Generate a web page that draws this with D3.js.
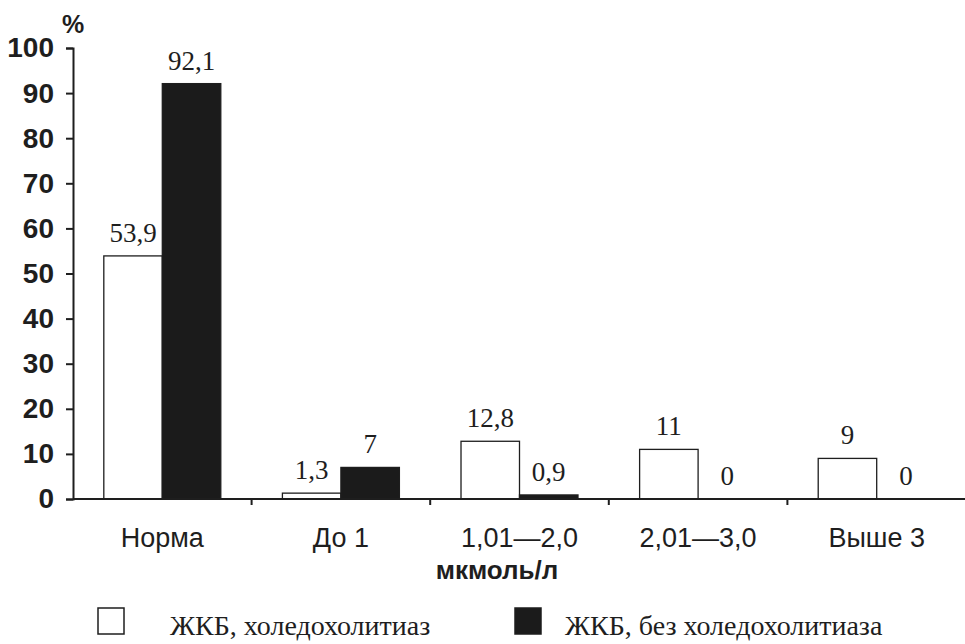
<!DOCTYPE html>
<html>
<head>
<meta charset="utf-8">
<script src="https://cdn.jsdelivr.net/npm/d3@7"></script>
<style>
  html, body { margin: 0; padding: 0; background: #fff; }
  svg { display: block; }
</style>
</head>
<body>
<svg id="chart" width="965" height="644"></svg>
<script>
// Bilirubin level groups and share of patients (%) in each
const categories = ["Норма", "До 1", "1,01—2,0", "2,01—3,0", "Выше 3"];
const seriesNames = ["ЖКБ, холедохолитиаз", "ЖКБ, без холедохолитиаза"];
const withCholedocho = [53.9, 1.3, 12.8, 11, 9];
const withoutCholedocho = [92.1, 7, 0.9, 0, 0];
const valueLabels = [
  ["53,9", "1,3", "12,8", "11", "9"],
  ["92,1", "7", "0,9", "0", "0"]
];
const yTicks = [0, 10, 20, 30, 40, 50, 60, 70, 80, 90, 100];

const seriesValues = [withCholedocho, withoutCholedocho];
const fills = ["#ffffff", "#1b1b1b"];
const ink = "#1e1e1e";
const sans = "'Liberation Sans', Arial, sans-serif";
const serif = "'Liberation Serif', 'Times New Roman', serif";

const svg = d3.select("#chart");
const plotLeft = 73, plotRight = 966, plotTop = 48, plotBottom = 499;

const y = d3.scaleLinear().domain([0, 100]).range([plotBottom, plotTop]);
const x0 = d3.scaleBand().domain(categories).range([plotLeft, plotRight]).padding(0);
const groupW = x0.bandwidth() * 0.655;
const x1 = d3.scaleBand().domain([0, 1]).range([-groupW / 2, groupW / 2]).padding(0);

// Bars with their value labels
const groups = svg.append("g").selectAll("g")
  .data(categories)
  .join("g")
  .attr("transform", d => `translate(${x0(d) + x0.bandwidth() / 2},0)`);

groups.each(function(cat, ci) {
  const g = d3.select(this);
  [0, 1].forEach(si => {
    const v = seriesValues[si][ci];
    if (v > 0) {
      g.append("rect")
        .attr("x", x1(si))
        .attr("y", y(v))
        .attr("width", x1.bandwidth())
        .attr("height", y(0) - y(v))
        .attr("fill", fills[si])
        .attr("stroke", ink)
        .attr("stroke-width", 1.3);
    }
    g.append("text")
      .attr("x", x1(si) + x1.bandwidth() / 2)
      .attr("y", y(v) - 14)
      .attr("text-anchor", "middle")
      .attr("font-family", serif)
      .attr("font-size", 27)
      .attr("fill", ink)
      .text(valueLabels[si][ci]);
  });
});

// Y axis
const yAxis = svg.append("g")
  .attr("transform", `translate(${plotLeft},0)`)
  .call(d3.axisLeft(y).tickValues(yTicks).tickSize(7).tickPadding(12).tickFormat(d3.format("d")));
yAxis.select(".domain").attr("stroke", ink).attr("stroke-width", 2);
yAxis.selectAll(".tick line").attr("stroke", ink).attr("stroke-width", 2);
yAxis.selectAll("text")
  .attr("font-family", sans)
  .attr("font-weight", "bold")
  .attr("font-size", 28)
  .attr("fill", ink);

svg.append("text")
  .attr("x", 62).attr("y", 33)
  .attr("font-family", sans)
  .attr("font-weight", "bold")
  .attr("font-size", 25)
  .attr("fill", ink)
  .text("%");

// X axis with ticks on the band boundaries
const xAxisG = svg.append("g");
xAxisG.append("line")
  .attr("x1", plotLeft).attr("x2", 965)
  .attr("y1", plotBottom).attr("y2", plotBottom)
  .attr("stroke", ink).attr("stroke-width", 2);
xAxisG.selectAll("line.tick")
  .data(categories)
  .join("line")
  .attr("class", "tick")
  .attr("x1", d => x0(d) + x0.bandwidth())
  .attr("x2", d => x0(d) + x0.bandwidth())
  .attr("y1", plotBottom).attr("y2", plotBottom + 6)
  .attr("stroke", ink).attr("stroke-width", 2);

xAxisG.selectAll("text")
  .data(categories)
  .join("text")
  .attr("x", d => x0(d) + x0.bandwidth() / 2)
  .attr("y", 547)
  .attr("text-anchor", "middle")
  .attr("font-family", sans)
  .attr("font-size", 27)
  .attr("fill", ink)
  .text(d => d);

svg.append("text")
  .attr("x", 497).attr("y", 579)
  .attr("text-anchor", "middle")
  .attr("font-family", sans)
  .attr("font-weight", "bold")
  .attr("font-size", 26)
  .attr("fill", ink)
  .text("мкмоль/л");

// Legend
const legend = svg.append("g");
const legendItems = [
  { sx: 98, tx: 170 },
  { sx: 515, tx: 565 }
];
seriesNames.forEach((name, i) => {
  legend.append("rect")
    .attr("x", legendItems[i].sx).attr("y", 608)
    .attr("width", 26).attr("height", 26)
    .attr("fill", fills[i])
    .attr("stroke", ink).attr("stroke-width", 1.5);
  legend.append("text")
    .attr("x", legendItems[i].tx).attr("y", 635)
    .attr("font-family", serif)
    .attr("font-size", 28)
    .attr("fill", ink)
    .text(name);
});
</script>
</body>
</html>
